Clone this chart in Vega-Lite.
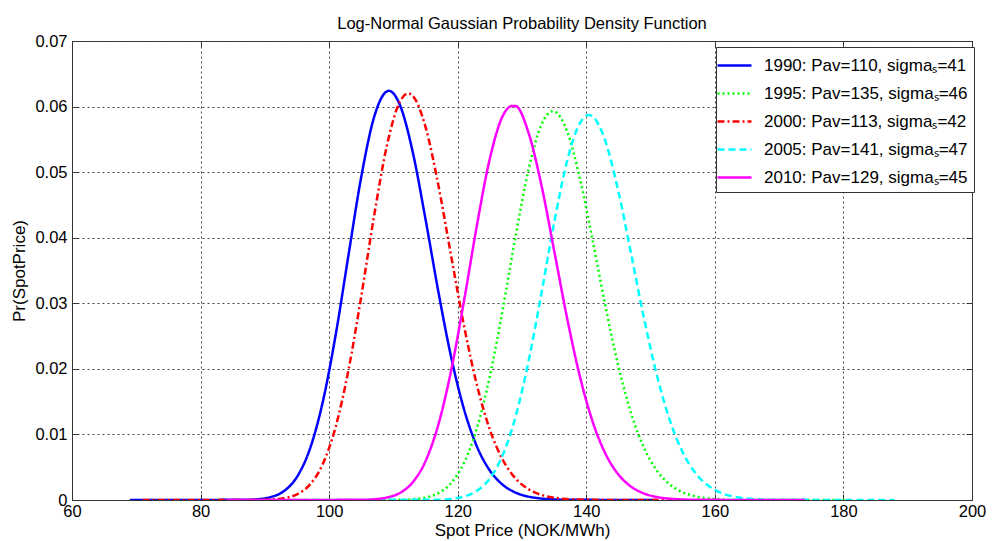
{
  "$schema": "https://vega.github.io/schema/vega-lite/v6.json",
  "width": 900,
  "height": 459,
  "autosize": {"type": "none"},
  "padding": {"left": 72, "top": 41, "right": 20, "bottom": 41},
  "background": "white",
  "title": {"text": "Log-Normal Gaussian Probability Density Function", "fontSize": 16.5, "font": "Liberation Sans", "fontWeight": "normal", "color": "#000", "offset": 1},
  "config": {
    "font": "Liberation Sans",
    "view": {"stroke": "#333", "strokeWidth": 1},
    "axis": {
      "labelFont": "Liberation Sans", "labelFontSize": 16.5, "labelColor": "#000",
      "titleFont": "Liberation Sans", "titleFontSize": 17, "titleFontWeight": "normal", "titleColor": "#000",
      "gridColor": "#444", "gridDash": [2, 3], "gridOpacity": 1, "gridWidth": 1,
      "domainColor": "#333", "tickColor": "#333", "tickSize": -6, "tickWidth": 1
    }
  },
  "datasets": {
    "curves": [
      {"s": "1990: Pav=110, sigmaₛ=41", "x": 69, "y": 0},
      {"s": "1990: Pav=110, sigmaₛ=41", "x": 87, "y": 0.000031},
      {"s": "1990: Pav=110, sigmaₛ=41", "x": 89, "y": 0.000131},
      {"s": "1990: Pav=110, sigmaₛ=41", "x": 91, "y": 0.000462},
      {"s": "1990: Pav=110, sigmaₛ=41", "x": 93, "y": 0.001382},
      {"s": "1990: Pav=110, sigmaₛ=41", "x": 95, "y": 0.003529},
      {"s": "1990: Pav=110, sigmaₛ=41", "x": 97, "y": 0.007778},
      {"s": "1990: Pav=110, sigmaₛ=41", "x": 99, "y": 0.014913},
      {"s": "1990: Pav=110, sigmaₛ=41", "x": 101, "y": 0.025085},
      {"s": "1990: Pav=110, sigmaₛ=41", "x": 103, "y": 0.037289},
      {"s": "1990: Pav=110, sigmaₛ=41", "x": 105, "y": 0.049313},
      {"s": "1990: Pav=110, sigmaₛ=41", "x": 107, "y": 0.05841},
      {"s": "1990: Pav=110, sigmaₛ=41", "x": 109, "y": 0.062331},
      {"s": "1990: Pav=110, sigmaₛ=41", "x": 109.3, "y": 0.0624},
      {"s": "1990: Pav=110, sigmaₛ=41", "x": 111, "y": 0.060266},
      {"s": "1990: Pav=110, sigmaₛ=41", "x": 113, "y": 0.053071},
      {"s": "1990: Pav=110, sigmaₛ=41", "x": 115, "y": 0.042778},
      {"s": "1990: Pav=110, sigmaₛ=41", "x": 117, "y": 0.031707},
      {"s": "1990: Pav=110, sigmaₛ=41", "x": 119, "y": 0.021701},
      {"s": "1990: Pav=110, sigmaₛ=41", "x": 121, "y": 0.013772},
      {"s": "1990: Pav=110, sigmaₛ=41", "x": 123, "y": 0.008136},
      {"s": "1990: Pav=110, sigmaₛ=41", "x": 125, "y": 0.00449},
      {"s": "1990: Pav=110, sigmaₛ=41", "x": 127, "y": 0.002323},
      {"s": "1990: Pav=110, sigmaₛ=41", "x": 129, "y": 0.001129},
      {"s": "1990: Pav=110, sigmaₛ=41", "x": 131, "y": 0.000518},
      {"s": "1990: Pav=110, sigmaₛ=41", "x": 133, "y": 0.000225},
      {"s": "1990: Pav=110, sigmaₛ=41", "x": 135, "y": 0.000092},
      {"s": "1990: Pav=110, sigmaₛ=41", "x": 137, "y": 0.000036},
      {"s": "1990: Pav=110, sigmaₛ=41", "x": 151, "y": 0},

      {"s": "1995: Pav=135, sigmaₛ=46", "x": 89, "y": 0},
      {"s": "1995: Pav=135, sigmaₛ=46", "x": 111, "y": 0.00003},
      {"s": "1995: Pav=135, sigmaₛ=46", "x": 113, "y": 0.000115},
      {"s": "1995: Pav=135, sigmaₛ=46", "x": 115, "y": 0.000374},
      {"s": "1995: Pav=135, sigmaₛ=46", "x": 117, "y": 0.001057},
      {"s": "1995: Pav=135, sigmaₛ=46", "x": 119, "y": 0.002616},
      {"s": "1995: Pav=135, sigmaₛ=46", "x": 121, "y": 0.0057},
      {"s": "1995: Pav=135, sigmaₛ=46", "x": 123, "y": 0.010994},
      {"s": "1995: Pav=135, sigmaₛ=46", "x": 125, "y": 0.018891},
      {"s": "1995: Pav=135, sigmaₛ=46", "x": 127, "y": 0.029055},
      {"s": "1995: Pav=135, sigmaₛ=46", "x": 129, "y": 0.040214},
      {"s": "1995: Pav=135, sigmaₛ=46", "x": 131, "y": 0.050321},
      {"s": "1995: Pav=135, sigmaₛ=46", "x": 133, "y": 0.057187},
      {"s": "1995: Pav=135, sigmaₛ=46", "x": 134.8, "y": 0.0593},
      {"s": "1995: Pav=135, sigmaₛ=46", "x": 135, "y": 0.059274},
      {"s": "1995: Pav=135, sigmaₛ=46", "x": 137, "y": 0.05626},
      {"s": "1995: Pav=135, sigmaₛ=46", "x": 139, "y": 0.049086},
      {"s": "1995: Pav=135, sigmaₛ=46", "x": 141, "y": 0.03951},
      {"s": "1995: Pav=135, sigmaₛ=46", "x": 143, "y": 0.02944},
      {"s": "1995: Pav=135, sigmaₛ=46", "x": 145, "y": 0.020375},
      {"s": "1995: Pav=135, sigmaₛ=46", "x": 147, "y": 0.013137},
      {"s": "1995: Pav=135, sigmaₛ=46", "x": 149, "y": 0.007912},
      {"s": "1995: Pav=135, sigmaₛ=46", "x": 151, "y": 0.004467},
      {"s": "1995: Pav=135, sigmaₛ=46", "x": 153, "y": 0.002368},
      {"s": "1995: Pav=135, sigmaₛ=46", "x": 155, "y": 0.001182},
      {"s": "1995: Pav=135, sigmaₛ=46", "x": 157, "y": 0.000558},
      {"s": "1995: Pav=135, sigmaₛ=46", "x": 159, "y": 0.000249},
      {"s": "1995: Pav=135, sigmaₛ=46", "x": 161, "y": 0.000105},
      {"s": "1995: Pav=135, sigmaₛ=46", "x": 163, "y": 0.000042},
      {"s": "1995: Pav=135, sigmaₛ=46", "x": 181, "y": 0},

      {"s": "2000: Pav=113, sigmaₛ=42", "x": 71, "y": 0},
      {"s": "2000: Pav=113, sigmaₛ=42", "x": 89, "y": 0.000016},
      {"s": "2000: Pav=113, sigmaₛ=42", "x": 91, "y": 0.000072},
      {"s": "2000: Pav=113, sigmaₛ=42", "x": 93, "y": 0.000271},
      {"s": "2000: Pav=113, sigmaₛ=42", "x": 95, "y": 0.000861},
      {"s": "2000: Pav=113, sigmaₛ=42", "x": 97, "y": 0.002338},
      {"s": "2000: Pav=113, sigmaₛ=42", "x": 99, "y": 0.005468},
      {"s": "2000: Pav=113, sigmaₛ=42", "x": 101, "y": 0.011114},
      {"s": "2000: Pav=113, sigmaₛ=42", "x": 103, "y": 0.01979},
      {"s": "2000: Pav=113, sigmaₛ=42", "x": 105, "y": 0.031088},
      {"s": "2000: Pav=113, sigmaₛ=42", "x": 107, "y": 0.043379},
      {"s": "2000: Pav=113, sigmaₛ=42", "x": 109, "y": 0.054119},
      {"s": "2000: Pav=113, sigmaₛ=42", "x": 111, "y": 0.060728},
      {"s": "2000: Pav=113, sigmaₛ=42", "x": 112.3, "y": 0.062},
      {"s": "2000: Pav=113, sigmaₛ=42", "x": 113, "y": 0.061635},
      {"s": "2000: Pav=113, sigmaₛ=42", "x": 115, "y": 0.056876},
      {"s": "2000: Pav=113, sigmaₛ=42", "x": 117, "y": 0.047954},
      {"s": "2000: Pav=113, sigmaₛ=42", "x": 119, "y": 0.037111},
      {"s": "2000: Pav=113, sigmaₛ=42", "x": 121, "y": 0.026476},
      {"s": "2000: Pav=113, sigmaₛ=42", "x": 123, "y": 0.017485},
      {"s": "2000: Pav=113, sigmaₛ=42", "x": 125, "y": 0.010727},
      {"s": "2000: Pav=113, sigmaₛ=42", "x": 127, "y": 0.00614},
      {"s": "2000: Pav=113, sigmaₛ=42", "x": 129, "y": 0.003287},
      {"s": "2000: Pav=113, sigmaₛ=42", "x": 131, "y": 0.001652},
      {"s": "2000: Pav=113, sigmaₛ=42", "x": 133, "y": 0.000781},
      {"s": "2000: Pav=113, sigmaₛ=42", "x": 135, "y": 0.000349},
      {"s": "2000: Pav=113, sigmaₛ=42", "x": 137, "y": 0.000148},
      {"s": "2000: Pav=113, sigmaₛ=42", "x": 139, "y": 0.000059},
      {"s": "2000: Pav=113, sigmaₛ=42", "x": 141, "y": 0.000023},
      {"s": "2000: Pav=113, sigmaₛ=42", "x": 155, "y": 0},

      {"s": "2005: Pav=141, sigmaₛ=47", "x": 94, "y": 0},
      {"s": "2005: Pav=141, sigmaₛ=47", "x": 117, "y": 0.000049},
      {"s": "2005: Pav=141, sigmaₛ=47", "x": 119, "y": 0.000171},
      {"s": "2005: Pav=141, sigmaₛ=47", "x": 121, "y": 0.000523},
      {"s": "2005: Pav=141, sigmaₛ=47", "x": 123, "y": 0.001399},
      {"s": "2005: Pav=141, sigmaₛ=47", "x": 125, "y": 0.003291},
      {"s": "2005: Pav=141, sigmaₛ=47", "x": 127, "y": 0.006853},
      {"s": "2005: Pav=141, sigmaₛ=47", "x": 129, "y": 0.012703},
      {"s": "2005: Pav=141, sigmaₛ=47", "x": 131, "y": 0.021062},
      {"s": "2005: Pav=141, sigmaₛ=47", "x": 133, "y": 0.031397},
      {"s": "2005: Pav=141, sigmaₛ=47", "x": 135, "y": 0.042273},
      {"s": "2005: Pav=141, sigmaₛ=47", "x": 137, "y": 0.051633},
      {"s": "2005: Pav=141, sigmaₛ=47", "x": 139, "y": 0.057455},
      {"s": "2005: Pav=141, sigmaₛ=47", "x": 140.4, "y": 0.0587},
      {"s": "2005: Pav=141, sigmaₛ=47", "x": 141, "y": 0.058473},
      {"s": "2005: Pav=141, sigmaₛ=47", "x": 143, "y": 0.05463},
      {"s": "2005: Pav=141, sigmaₛ=47", "x": 145, "y": 0.047022},
      {"s": "2005: Pav=141, sigmaₛ=47", "x": 147, "y": 0.037414},
      {"s": "2005: Pav=141, sigmaₛ=47", "x": 149, "y": 0.027607},
      {"s": "2005: Pav=141, sigmaₛ=47", "x": 151, "y": 0.018948},
      {"s": "2005: Pav=141, sigmaₛ=47", "x": 153, "y": 0.012133},
      {"s": "2005: Pav=141, sigmaₛ=47", "x": 155, "y": 0.007268},
      {"s": "2005: Pav=141, sigmaₛ=47", "x": 157, "y": 0.004084},
      {"s": "2005: Pav=141, sigmaₛ=47", "x": 159, "y": 0.002158},
      {"s": "2005: Pav=141, sigmaₛ=47", "x": 161, "y": 0.001074},
      {"s": "2005: Pav=141, sigmaₛ=47", "x": 163, "y": 0.000505},
      {"s": "2005: Pav=141, sigmaₛ=47", "x": 165, "y": 0.000225},
      {"s": "2005: Pav=141, sigmaₛ=47", "x": 167, "y": 0.000095},
      {"s": "2005: Pav=141, sigmaₛ=47", "x": 169, "y": 0.000038},
      {"s": "2005: Pav=141, sigmaₛ=47", "x": 188, "y": 0},

      {"s": "2010: Pav=129, sigmaₛ=45", "x": 84, "y": 0},
      {"s": "2010: Pav=129, sigmaₛ=45", "x": 105, "y": 0.000028},
      {"s": "2010: Pav=129, sigmaₛ=45", "x": 107, "y": 0.000111},
      {"s": "2010: Pav=129, sigmaₛ=45", "x": 109, "y": 0.000372},
      {"s": "2010: Pav=129, sigmaₛ=45", "x": 111, "y": 0.001074},
      {"s": "2010: Pav=129, sigmaₛ=45", "x": 113, "y": 0.0027},
      {"s": "2010: Pav=129, sigmaₛ=45", "x": 115, "y": 0.005943},
      {"s": "2010: Pav=129, sigmaₛ=45", "x": 117, "y": 0.011534},
      {"s": "2010: Pav=129, sigmaₛ=45", "x": 119, "y": 0.01985},
      {"s": "2010: Pav=129, sigmaₛ=45", "x": 121, "y": 0.030473},
      {"s": "2010: Pav=129, sigmaₛ=45", "x": 123, "y": 0.041959},
      {"s": "2010: Pav=129, sigmaₛ=45", "x": 125, "y": 0.052081},
      {"s": "2010: Pav=129, sigmaₛ=45", "x": 127, "y": 0.058564},
      {"s": "2010: Pav=129, sigmaₛ=45", "x": 128.5, "y": 0.0601},
      {"s": "2010: Pav=129, sigmaₛ=45", "x": 129, "y": 0.06008},
      {"s": "2010: Pav=129, sigmaₛ=45", "x": 131, "y": 0.056052},
      {"s": "2010: Pav=129, sigmaₛ=45", "x": 133, "y": 0.048111},
      {"s": "2010: Pav=129, sigmaₛ=45", "x": 135, "y": 0.038044},
      {"s": "2010: Pav=129, sigmaₛ=45", "x": 137, "y": 0.027816},
      {"s": "2010: Pav=129, sigmaₛ=45", "x": 139, "y": 0.018868},
      {"s": "2010: Pav=129, sigmaₛ=45", "x": 141, "y": 0.011915},
      {"s": "2010: Pav=129, sigmaₛ=45", "x": 143, "y": 0.007024},
      {"s": "2010: Pav=129, sigmaₛ=45", "x": 145, "y": 0.00388},
      {"s": "2010: Pav=129, sigmaₛ=45", "x": 147, "y": 0.002012},
      {"s": "2010: Pav=129, sigmaₛ=45", "x": 149, "y": 0.000982},
      {"s": "2010: Pav=129, sigmaₛ=45", "x": 151, "y": 0.000453},
      {"s": "2010: Pav=129, sigmaₛ=45", "x": 153, "y": 0.000197},
      {"s": "2010: Pav=129, sigmaₛ=45", "x": 155, "y": 0.000082},
      {"s": "2010: Pav=129, sigmaₛ=45", "x": 157, "y": 0.000032},
      {"s": "2010: Pav=129, sigmaₛ=45", "x": 174, "y": 0}
    ]
  },
  "data": {"name": "curves"},
  "resolve": {"axis": {"x": "independent", "y": "independent"}},
  "layer": [
    {
      "mark": {"type": "point", "opacity": 0},
      "encoding": {
        "x": {
          "field": "x", "type": "quantitative",
          "scale": {"domain": [60, 200], "nice": false, "zero": false},
          "axis": {"orient": "top", "title": null, "labels": false, "grid": false, "domain": false, "values": [60, 80, 100, 120, 140, 160, 180, 200]}
        },
        "y": {
          "field": "y", "type": "quantitative",
          "scale": {"domain": [0, 0.07], "nice": false},
          "axis": {"orient": "right", "title": null, "labels": false, "grid": false, "domain": false, "values": [0, 0.01, 0.02, 0.03, 0.04, 0.05, 0.06, 0.07]}
        }
      }
    },
    {
      "mark": {"type": "line", "strokeWidth": 2.5, "interpolate": "monotone", "strokeCap": "butt", "clip": true},
      "encoding": {
        "x": {
          "field": "x", "type": "quantitative",
          "scale": {"domain": [60, 200], "nice": false, "zero": false},
          "axis": {"orient": "bottom", "grid": true, "title": "Spot Price (NOK/MWh)", "values": [60, 80, 100, 120, 140, 160, 180, 200], "labelPadding": 9, "titlePadding": 3, "labelFlush": false}
        },
        "y": {
          "field": "y", "type": "quantitative",
          "scale": {"domain": [0, 0.07], "nice": false},
          "axis": {"orient": "left", "grid": true, "title": "Pr(SpotPrice)", "values": [0, 0.01, 0.02, 0.03, 0.04, 0.05, 0.06, 0.07], "format": ".2~f", "labelPadding": 11, "titlePadding": 6, "labelFlush": false}
        },
        "color": {
          "field": "s", "type": "nominal",
          "scale": {"range": ["#0000ff", "#00ff00", "#ff0000", "#00ffff", "#ff00ff"]},
          "legend": {
            "title": null, "orient": "none", "legendX": 644, "legendY": 6,
            "symbolType": "M-1.545,0H1.545", "symbolSize": 484, "symbolStrokeWidth": 2.5,
            "labelFont": "Liberation Sans", "labelFontSize": 17, "labelColor": "#000", "labelLimit": 400, "labelOffset": 17,
            "strokeColor": "#333", "fillColor": "white", "padding": 6, "rowPadding": 7
          }
        },
        "strokeDash": {
          "field": "s", "type": "nominal",
          "scale": {"range": [[1, 0], [2, 3], [7, 3, 2, 3], [7, 4], [1, 0]]},
          "legend": {"title": null}
        }
      }
    }
  ]
}
